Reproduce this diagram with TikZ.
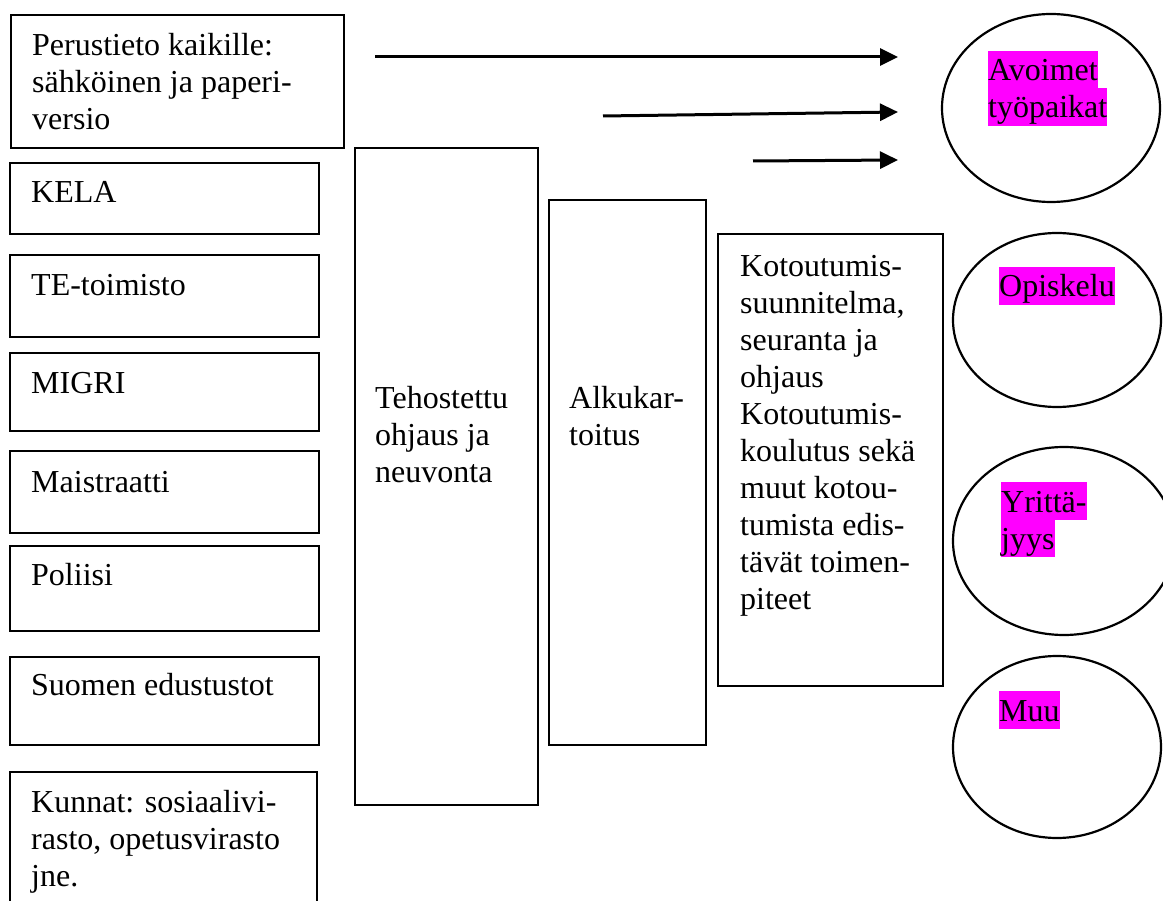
\documentclass[tikz,border=0pt]{standalone}
\usepackage{fontspec}
\setmainfont{Liberation Serif}
\usetikzlibrary{shapes.geometric,arrows.meta}
\definecolor{hl}{RGB}{255,0,255}
\tikzset{
  boxnode/.style={draw, line width=2.3pt, inner sep=0pt, anchor=north west},
  txt/.style={inner sep=0pt, anchor=north west, align=left, font=\fontsize{32}{37}\selectfont},
  oval/.style={draw, ellipse, line width=2.2pt, inner sep=0pt},
  hltxt/.style={fill=hl, inner sep=0pt, anchor=base west, text height=30pt, text depth=8pt, font=\fontsize{32}{37}\selectfont},
  arr/.style={line width=3pt, -{Triangle[length=18pt,width=17pt]}}
}
\begin{document}
\begin{tikzpicture}[x=1pt,y=-1pt]
\useasboundingbox (0,0) rectangle (1163,901);
\clip (0,0) rectangle (1163,901);
% left column boxes
\node[boxnode, minimum width=333pt, minimum height=133pt] (info) at (10,14) {};
\node[boxnode, minimum width=309pt, minimum height=71pt] (kela) at (9,162) {};
\node[boxnode, minimum width=309pt, minimum height=82pt] (te) at (9,254) {};
\node[boxnode, minimum width=309pt, minimum height=78pt] (migri) at (9,352) {};
\node[boxnode, minimum width=309pt, minimum height=82pt] (maist) at (9,450) {};
\node[boxnode, minimum width=309pt, minimum height=85pt] (poliisi) at (9,545) {};
\node[boxnode, minimum width=309pt, minimum height=88pt] (suomen) at (9,656) {};
\node[boxnode, minimum width=307pt, minimum height=150pt] (kunnat) at (9,771) {};
% middle boxes
\node[boxnode, minimum width=183pt, minimum height=657pt] (teho) at (354,147) {};
\node[boxnode, minimum width=157pt, minimum height=545pt] (alku) at (548,199) {};
\node[boxnode, minimum width=225pt, minimum height=452pt] (koto) at (717,233) {};
% texts
\node[txt] (infot) at (32,29.1) {\strut Perustieto kaikille:\\sähköinen ja paperi-\\versio};
\node[txt] (kelat) at (31,176.1) {\strut KELA};
\node[txt] (tet) at (31,269.1) {\strut TE-toimisto};
\node[txt] (migrit) at (31,367.1) {\strut MIGRI};
\node[txt] (maistt) at (31,466.1) {\strut Maistraatti};
\node[txt] (poliisit) at (31,559.1) {\strut Poliisi};
\node[txt] (suoment) at (31,669.1) {\strut Suomen edustustot};
\node[txt] (kunnatt) at (31,786.1) {\strut Kunnat: sosiaalivi-\\rasto, opetusvirasto\\jne.};
\node[txt] (tehot) at (375,382.1) {\strut Tehostettu\\ohjaus ja\\neuvonta};
\node[txt] (alkut) at (569,382.1) {\strut Alkukar-\\toitus};
\node[txt] (kotot) at (740,250.1) {\strut Kotoutumis-\\suunnitelma,\\seuranta ja\\ohjaus\\Kotoutumis-\\koulutus sekä\\muut kotou-\\tumista edis-\\tävät toimen-\\piteet};
% ellipses
\node[oval, minimum width=218pt, minimum height=188pt] (avoimet) at (1051,108) {};
\node[oval, minimum width=208pt, minimum height=174pt] (opiskelu) at (1057,320) {};
\node[oval, minimum width=222pt, minimum height=188pt] (yritt) at (1064,541) {};
\node[oval, minimum width=208pt, minimum height=182pt] (muu) at (1057,747) {};
% highlighted labels
\node[hltxt] (avoimet1) at (988,81) {Avoimet};
\node[hltxt] (avoimet2) at (988,118) {työpaikat};
\node[hltxt] (opiskelul) at (999,297) {Opiskelu};
\node[hltxt] (yritt1) at (1001,512) {Yrittä-};
\node[hltxt] (yritt2) at (1001,549) {jyys};
\node[hltxt] (muul) at (999,721) {Muu};
% arrows
\coordinate (a1s) at (375,57);
\coordinate (a1e) at (898,57);
\coordinate (a2s) at (603,116);
\coordinate (a2e) at (898,112);
\coordinate (a3s) at (753,161);
\coordinate (a3e) at (898,160);
\draw[arr] (a1s) -- (a1e);
\draw[arr] (a2s) -- (a2e);
\draw[arr] (a3s) -- (a3e);
\end{tikzpicture}
\end{document}
